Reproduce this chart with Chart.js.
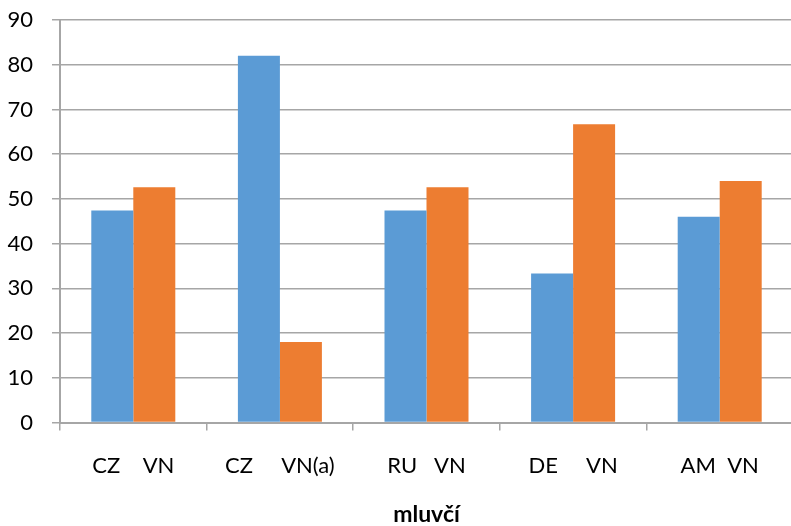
<!DOCTYPE html>
<html>
<head>
<meta charset="utf-8">
<script src="https://cdn.jsdelivr.net/npm/chart.js@4.4.1/dist/chart.umd.min.js"></script>
<style>
    html, body { margin: 0; padding: 0; overflow: hidden; background: #fff; }
    #wrap { width: 793px; height: 526px; }
</style>
</head>
<body>
<div id="wrap"><canvas id="mluvciChart" width="793" height="526"></canvas></div>
<script>
// kategorie a hodnoty (v %)
const categories = ['CZ    VN', 'CZ     VN(a)', 'RU   VN', 'DE     VN', 'AM  VN'];
const firstValues = [47.4, 82, 47.4, 33.3, 46];
const secondValues = [52.6, 18, 52.6, 66.7, 54];
const yTicks = [0, 10, 20, 30, 40, 50, 60, 70, 80, 90];

const gridGrey = '#a6a6a6';

document.addEventListener('DOMContentLoaded', function() {
    const ctx = document.getElementById('mluvciChart');
    new Chart(ctx, {
        type: 'bar',
        data: {
            labels: categories,
            datasets: [{
                data: firstValues,
                backgroundColor: '#5b9bd5',
                categoryPercentage: 0.573,
                barPercentage: 1
            }, {
                data: secondValues,
                backgroundColor: '#ed7d31',
                categoryPercentage: 0.573,
                barPercentage: 1
            }]
        },
        options: {
            responsive: false,
            animation: false,
            layout: { padding: { top: 20, right: 0, bottom: 0, left: 0 } },
            plugins: {
                legend: { display: false },
                tooltip: { enabled: false }
            },
            scales: {
                x: {
                    afterFit: function(scale) { scale.height = 103.5; },
                    grid: {
                        display: true,
                        drawOnChartArea: false,
                        drawTicks: true,
                        tickLength: 8,
                        color: gridGrey,
                        lineWidth: 1.5
                    },
                    border: { display: true, color: gridGrey, width: 2 },
                    ticks: {
                        color: '#000',
                        padding: 22,
                        font: { family: 'Lato', size: 22 }
                    },
                    title: {
                        display: true,
                        text: 'mluvčí',
                        color: '#000',
                        padding: { top: 0, bottom: 0 },
                        font: { family: 'Lato', size: 23, weight: 'bold', lineHeight: 1 }
                    }
                },
                y: {
                    min: 0,
                    max: 90,
                    afterFit: function(scale) {
                        scale.width = 60;
                        scale.paddingTop = 0;
                        scale.paddingBottom = 0;
                    },
                    afterBuildTicks: function(scale) {
                        scale.ticks = yTicks.map(v => ({ value: v }));
                    },
                    grid: {
                        color: gridGrey,
                        lineWidth: 1.5,
                        tickLength: 8
                    },
                    border: { display: true, color: gridGrey, width: 2 },
                    ticks: {
                        color: '#000',
                        padding: 19,
                        font: { family: 'Lato', size: 22 }
                    }
                }
            }
        }
    });
});
</script>
</body>
</html>
